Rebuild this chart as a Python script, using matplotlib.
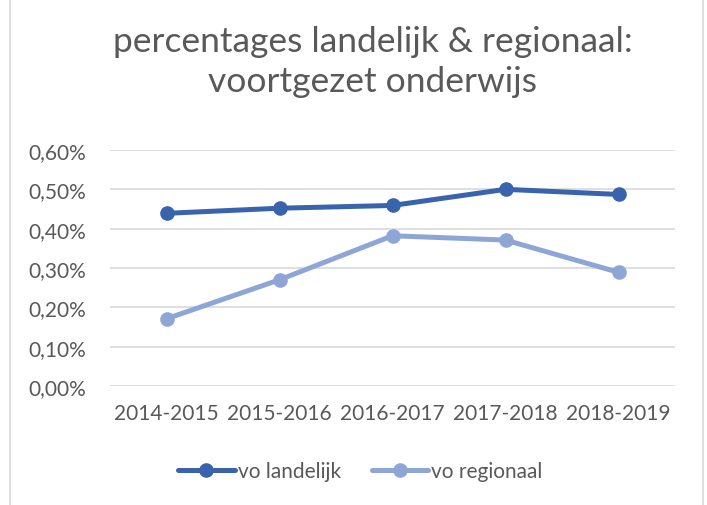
import matplotlib.pyplot as plt
from matplotlib.lines import Line2D
from matplotlib.ticker import FuncFormatter

# schooljaren en percentages (in %)
jaren = ["2014-2015", "2015-2016", "2016-2017", "2017-2018", "2018-2019"]
vo_landelijk = [0.439, 0.452, 0.459, 0.500, 0.487]
vo_regionaal = [0.171, 0.270, 0.382, 0.371, 0.289]

donker = "#3A63AD"
licht = "#8EA6D6"
tekst = "#595959"

plt.rcParams['font.family'] = ['Lato', 'DejaVu Sans']

fig = plt.figure(figsize=(7.07, 5.06), dpi=100)
ax = fig.add_axes([110/707, 1-387/506, (675-110)/707, (387-151)/506])

x = list(range(len(jaren)))
ax.plot(x, vo_landelijk, color=donker, lw=3.6, marker="o", ms=9.5, label="vo landelijk",
        solid_capstyle="round", zorder=3)
ax.plot(x, vo_regionaal, color=licht, lw=3.6, marker="o", ms=9.5, label="vo regionaal",
        solid_capstyle="round", zorder=3)

ax.set_xlim(-0.5, len(jaren) - 0.5)
ax.set_ylim(0, 0.6)
ax.set_yticks([0, 0.1, 0.2, 0.3, 0.4, 0.5, 0.6])
ax.yaxis.set_major_formatter(FuncFormatter(lambda v, p: ("%.2f%%" % v).replace(".", ",")))
ax.set_xticks(x)
ax.set_xticklabels(jaren)
ax.grid(axis="y", color="#D9D9D9", lw=1.2, zorder=0)
for s in ax.spines.values():
    s.set_visible(False)
ax.tick_params(axis="both", length=0, labelsize=15, labelcolor=tekst)
ax.tick_params(axis="y", pad=17)
ax.tick_params(axis="x", pad=12)

fig.text(0.527, 1-42/506, "percentages landelijk & regionaal:", ha="center", va="center",
         fontsize=25.5, color=tekst)
fig.text(0.527, 1-82/506, "voortgezet onderwijs", ha="center", va="center",
         fontsize=25.5, color=tekst)

fig.legend(loc="center", bbox_to_anchor=(0.51, 1-472/506), ncol=2, frameon=False,
           fontsize=15, labelcolor=tekst, handlelength=2.7, handletextpad=0.15,
           columnspacing=1.5)

# kader van de grafiek
fig.add_artist(Line2D([10/707, 10/707], [0, 1], color="#D9D9D9", lw=1.2))
fig.add_artist(Line2D([703/707, 703/707], [0, 1], color="#D9D9D9", lw=1.2))

fig.savefig("out.png", dpi=100)
